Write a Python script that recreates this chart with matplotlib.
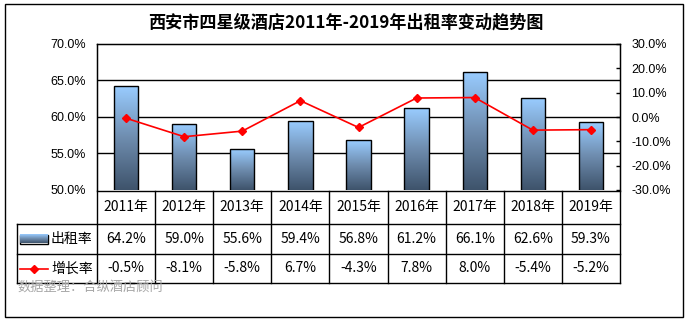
import matplotlib
matplotlib.use("Agg")
import matplotlib.pyplot as plt
import numpy as np
from matplotlib.colors import LinearSegmentedColormap
from matplotlib.patches import Rectangle

plt.rcParams['font.family'] = ['Noto Sans CJK SC', 'DejaVu Sans']

title = "西安市四星级酒店2011年-2019年出租率变动趋势图"
years = ["2011年", "2012年", "2013年", "2014年", "2015年", "2016年", "2017年", "2018年", "2019年"]
occupancy = [64.2, 59.0, 55.6, 59.4, 56.8, 61.2, 66.1, 62.6, 59.3]
growth = [-0.5, -8.1, -5.8, 6.7, -4.3, 7.8, 8.0, -5.4, -5.2]
series_names = ["出租率", "增长率"]
source = "数据整理：合纵酒店顾问"

W, H = 688, 323
fig = plt.figure(figsize=(W / 100, H / 100), dpi=100)

def fx(px):
    return px / W

def fy(py):
    return 1 - py / H

# outer frame
frame = fig.add_axes([0, 0, 1, 1])
frame.set_xlim(0, W)
frame.set_ylim(H, 0)
frame.axis('off')
frame.add_patch(Rectangle((5, 3.5), 677.5, 313.5, fill=False, ec='black', lw=1.0))

fig.text(fx(346), fy(22), title, ha='center', va='center', fontsize=12.3,
         fontweight='bold', color='black')

L, R, T, B = 97, 620, 44, 190
ax = fig.add_axes([fx(L), fy(B), fx(R) - fx(L), fy(T) - fy(B)])
x = np.arange(len(years))
cmap = LinearSegmentedColormap.from_list('g', ['#3E536B', '#6E8CAE', '#99CCFF'])
bars = ax.bar(x, occupancy, width=0.42, bottom=0, color='none', edgecolor='black',
              linewidth=1.0, zorder=3)
ax.set_ylim(50, 70)
ax.set_xlim(-0.5, len(years) - 0.5)
grad = np.linspace(0, 1, 256).reshape(-1, 1)
for b in bars:
    x0, w, h = b.get_x(), b.get_width(), b.get_height()
    im = ax.imshow(grad, cmap=cmap, aspect='auto', origin='lower',
                   extent=(x0, x0 + w, 50, h), zorder=2.5)
    im.set_clip_path(b)
ax.set_yticks([50, 55, 60, 65, 70])
ax.set_yticklabels([f"{v:.1f}%" for v in [50, 55, 60, 65, 70]],
                   fontfamily='Liberation Sans', fontsize=9)
ax.tick_params(axis='y', length=0, pad=8)
ax.set_xticks([])
for v in [55, 60, 65]:
    ax.axhline(v, color='black', lw=1.0, zorder=1)
for s in ['left', 'top', 'right']:
    ax.spines[s].set_linewidth(1.0)
ax.spines['bottom'].set_visible(False)

ax2 = ax.twinx()
ax2.plot(x, growth, color='#FF0000', lw=1.2, marker='D', markersize=4.5,
         markerfacecolor='#FF0000', markeredgecolor='#FF0000', zorder=5)
ax2.set_ylim(-30, 30)
ax2.set_yticks(np.arange(-30, 31, 10))
ax2.set_yticklabels([f"{v:.1f}%" for v in np.arange(-30, 31, 10)],
                    fontfamily='Liberation Sans', fontsize=9)
ax2.tick_params(axis='y', direction='in', length=3, pad=8, width=1.0)
ax2.spines['bottom'].set_visible(False)
ax2.set_xlim(-0.5, len(years) - 0.5)

# table
row_y = [190.5, 224, 254, 283]
tab = fig.add_axes([fx(L), fy(row_y[-1]), fx(R) - fx(L), fy(row_y[0]) - fy(row_y[-1])])
tab.set_xlim(-0.5, len(years) - 0.5)
tab.set_ylim(row_y[-1], row_y[0])
tab.axis('off')
cw = (R - L) / len(years)
xleft = -0.5 - (L - 17) / cw
kw = dict(color='black', lw=1.0, clip_on=False, solid_capstyle='projecting')
tab.plot([-0.5, len(years) - 0.5], [row_y[0]] * 2, **kw)
for yy in row_y[1:]:
    tab.plot([xleft, len(years) - 0.5], [yy] * 2, **kw)
for i in range(len(years) + 1):
    tab.plot([i - 0.5] * 2, [row_y[0], row_y[-1]], **kw)
tab.plot([xleft] * 2, [row_y[1], row_y[-1]], **kw)

cy = [(row_y[0] + row_y[1]) / 2, (row_y[1] + row_y[2]) / 2, (row_y[2] + row_y[3]) / 2]
for i in range(len(years)):
    tab.text(i, cy[0], years[i], ha='center', va='center', fontsize=10, clip_on=False)
    tab.text(i, cy[1], f"{occupancy[i]:.1f}%", ha='center', va='center', fontsize=10, clip_on=False)
    tab.text(i, cy[2], f"{growth[i]:.1f}%", ha='center', va='center', fontsize=10, clip_on=False)

# legend keys in table
kx0 = xleft + 3 / cw
kx1 = xleft + 31 / cw
key = Rectangle((kx0, cy[1] - 4.5), kx1 - kx0, 9, fill=False, ec='black', lw=1.0, clip_on=False)
tab.add_patch(key)
kim = tab.imshow(grad, cmap=cmap, aspect='auto', origin='lower',
                 extent=(kx0, kx1, cy[1] + 4.5, cy[1] - 4.5), zorder=1)
kim.set_clip_on(False)
tab.set_xlim(-0.5, len(years) - 0.5)
tab.set_ylim(row_y[-1], row_y[0])
tab.plot([kx0, kx1], [cy[2], cy[2]], color='#FF0000', lw=1.2, clip_on=False)
tab.plot([(kx0 + kx1) / 2], [cy[2]], marker='D', markersize=4.5, color='#FF0000', clip_on=False)
tab.text(xleft + 34 / cw, cy[1], series_names[0], ha='left', va='center', fontsize=10, clip_on=False)
tab.text(xleft + 34 / cw, cy[2], series_names[1], ha='left', va='center', fontsize=10, clip_on=False)

fig.text(fx(17), fy(287), source, ha='left', va='center', fontsize=9.5, color='#A6A6A6')

fig.savefig("out.png", dpi=100)
